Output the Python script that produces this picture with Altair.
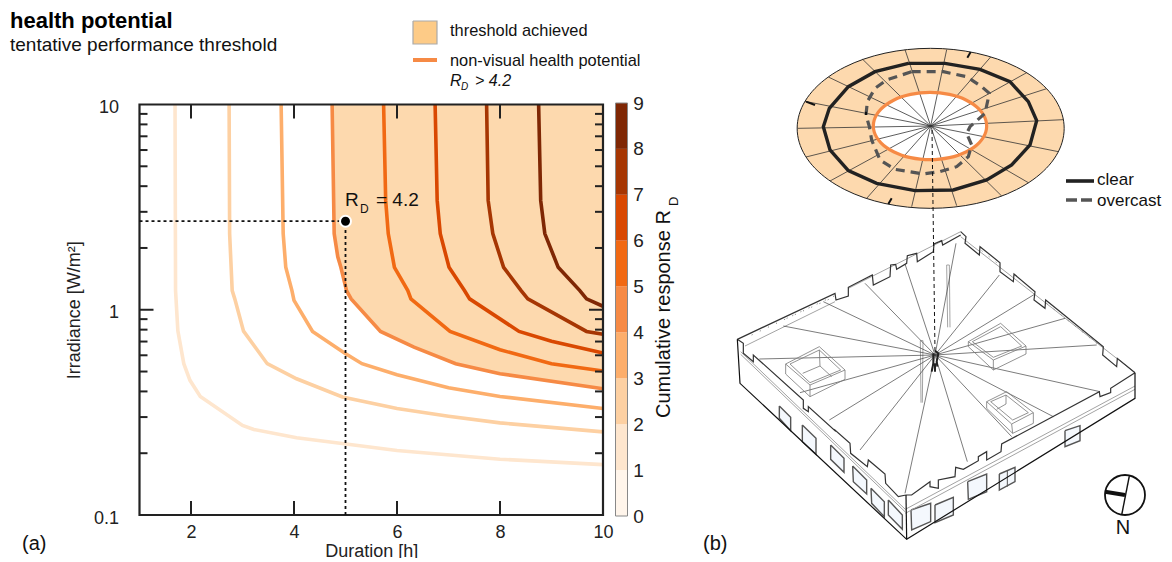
import altair as alt
import pandas as pd
import math

W, H = 1156, 550
FONT = "Liberation Sans"

# ---- response curves: duration [h] / irradiance [W/m2]
curve_labels = [1, 2, 3, 4, 5, 6, 7, 8]
curve_colors = ["#fee6ce", "#fdd0a2", "#fdae6b", "#f68a45", "#f16913", "#d94801", "#a63603", "#7f2704"]
c1_d = [1.69, 1.70, 1.745, 1.86, 1.98, 2.18, 3.0, 3.22, 4.05, 5.01, 6.0, 8.0, 10.0]
c1_i = [10, 1.24, 0.79, 0.546, 0.453, 0.378, 0.273, 0.261, 0.238, 0.222, 0.206, 0.187, 0.176]
c2_d = [2.74, 2.75, 2.80, 2.85, 3.02, 3.48, 4.05, 4.94, 6.0, 7.0, 8.0, 10.0]
c2_i = [10, 2.35, 1.24, 1.13, 0.787, 0.546, 0.461, 0.376, 0.33, 0.303, 0.281, 0.254]
c3_d = [3.75, 3.79, 3.84, 3.96, 4.0, 4.36, 4.98, 5.32, 6.0, 7.0, 8.0, 10.0]
c3_i = [10, 2.35, 1.61, 1.24, 1.11, 0.784, 0.615, 0.546, 0.482, 0.417, 0.378, 0.33]
c4_d = [4.74, 4.78, 4.85, 4.91, 5.02, 5.11, 5.68, 6.33, 7.14, 8.0, 10.0]
c4_i = [10, 2.35, 1.81, 1.61, 1.24, 1.13, 0.784, 0.658, 0.546, 0.488, 0.412]
c5_d = [5.74, 5.78, 5.83, 5.95, 6.21, 6.27, 7.03, 8.0, 9.0, 10.0]
c5_i = [10, 3.41, 2.35, 1.61, 1.24, 1.13, 0.784, 0.638, 0.546, 0.503]
c6_d = [6.74, 6.78, 6.84, 7.01, 7.31, 7.41, 8.37, 9.0, 10.0]
c6_i = [10, 3.41, 2.35, 1.61, 1.24, 1.13, 0.784, 0.703, 0.615]
c7_d = [7.74, 7.77, 7.86, 8.07, 8.41, 8.54, 9.68, 10.0]
c7_i = [10, 3.41, 2.35, 1.61, 1.24, 1.13, 0.784, 0.759]
c8_d = [8.75, 8.79, 8.87, 9.13, 9.55, 9.68, 10.0]
c8_i = [10, 3.41, 2.35, 1.61, 1.24, 1.13, 1.04]
curves = [(c1_d, c1_i), (c2_d, c2_i), (c3_d, c3_i), (c4_d, c4_i),
          (c5_d, c5_i), (c6_d, c6_i), (c7_d, c7_i), (c8_d, c8_i)]

# colour bar
bar_levels = [0, 1, 2, 3, 4, 5, 6, 7, 8]
bar_colors = ["#fff5eb", "#fee6ce", "#fdd0a2", "#fdae6b", "#f68a45", "#f16913", "#d94801", "#a63603", "#7f2704"]

minor_irr = [0.2, 0.3, 0.4, 0.5, 0.6, 0.7, 0.8, 0.9, 2, 3, 4, 5, 6, 7, 8, 9]
major_dur = [2, 4, 6, 8]
point_d, point_i = 5, 2.7

# ---- sky diagram, read in crop coordinates (3x, origin 780,30)
ring_az = list(range(0, 360, 10))
disk_spokes = [(375, 59), (500, 59), (632, 81), (740, 128), (800, 176), (850, 269), (835, 365), (745, 458),
               (665, 498), (530, 527), (395, 530), (260, 505), (150, 453), (78, 381), (52, 295), (75, 214),
               (145, 141), (248, 88)]
ring_clear = [(385, 100), (495, 100), (600, 118), (690, 155), (745, 215), (770, 272), (750, 345), (695, 405),
              (620, 450), (520, 480), (405, 482), (290, 460), (205, 422), (150, 360), (130, 290), (148, 235),
              (205, 170), (285, 125), (385, 100)]
ring_over = [(395, 125), (490, 125), (560, 140), (605, 170), (628, 190), (615, 250), (570, 290), (560, 310),
             (575, 345), (565, 380), (530, 410), (480, 425), (430, 432), (345, 418), (300, 390), (275, 330),
             (268, 290), (258, 255), (262, 215), (285, 175), (320, 150), (395, 125)]
disk_marks = [[(562, 83), (572, 66)], [(78, 215), (105, 225)], [(325, 522), (335, 505)], [(258, 245), (258, 255)]]

# ---- building, read in crop coordinates (3x, origin 720,220)
b_frame = [[(52, 358), (60, 490), (560, 958), (1245, 535), (1245, 458)], [(558, 825), (560, 958)]]
b_dark = [[(52, 358), (345, 220), (348, 240), (385, 228), (385, 202), (457, 165), (460, 195), (510, 170), (512, 135),
           (527, 133), (530, 148), (560, 130), (562, 107), (590, 100), (592, 125), (640, 95), (642, 72), (665, 62),
           (668, 75), (722, 45)],
          [(1245, 458), (1172, 505), (1172, 518), (1140, 530), (1138, 515), (845, 672), (843, 695), (800, 720),
           (800, 695), (775, 710), (775, 722), (730, 748), (707, 742), (705, 770), (655, 780), (655, 805), (630, 800),
           (630, 785), (575, 825), (558, 825)],
          [(558, 825), (535, 830), (497, 790), (495, 762), (445, 720), (442, 740), (392, 700), (390, 670), (345, 630),
           (345, 632), (265, 560), (265, 575), (250, 565), (250, 540), (100, 405), (100, 425), (70, 400), (70, 370),
           (52, 358)],
          [(722, 35), (738, 50), (735, 70), (778, 105), (780, 80), (840, 128), (840, 155), (880, 185), (882, 162),
           (945, 215), (942, 240), (975, 265), (977, 240), (1150, 380), (1148, 405), (1190, 440), (1192, 415),
           (1245, 458)]]
b_light = [[(75, 378), (345, 245)], [(385, 205), (722, 35)], [(722, 50), (1245, 458)],
           [(62, 395), (556, 868)], [(62, 403), (556, 876)],
           [(556, 868), (1245, 498)], [(556, 880), (1245, 508)],
           [(680, 135), (683, 322)], [(688, 135), (690, 322)], [(680, 135), (688, 135)],
           [(601, 362), (603, 548)], [(609, 362), (607, 548)], [(601, 362), (609, 362)]]
b_dots = [[(95, 345), (342, 228)], [(785, 92), (835, 132)], [(980, 250), (1140, 378)], [(200, 295), (340, 232)]]
roof_center = (645, 405)
roof_spokes = [(555, 132), (435, 190), (310, 245), (190, 318), (118, 417), (240, 518), (328, 600), (420, 690),
               (555, 820), (742, 725), (1000, 590), (1140, 515), (1130, 375), (1035, 295), (945, 222), (838, 165),
               (708, 70), (875, 650)]
skylights = [
    [(197, 432), (298, 380), (375, 450), (270, 495), (197, 432)],
    [(197, 432), (197, 462), (270, 530), (375, 478), (375, 450)], [(270, 495), (270, 530)],
    [(210, 432), (298, 390), (362, 450), (270, 488), (210, 432)],
    [(248, 460), (300, 438), (335, 470)], [(298, 390), (300, 438)],
    [(745, 365), (842, 310), (918, 378), (820, 420), (745, 365)],
    [(745, 365), (745, 380), (820, 450), (918, 402), (918, 378)], [(820, 420), (820, 450)],
    [(757, 365), (842, 320), (905, 378), (820, 412), (757, 365)],
    [(800, 545), (860, 515), (940, 578), (875, 612), (800, 545)],
    [(800, 545), (800, 565), (878, 640), (940, 610), (940, 578)], [(875, 612), (878, 640)],
    [(812, 545), (858, 525), (925, 578), (878, 600), (812, 545)], [(830, 568), (858, 552), (858, 525)],
]
windows = [
    [(178, 558), (212, 592), (212, 632), (178, 595), (178, 558)],
    [(247, 615), (288, 655), (288, 703), (247, 665), (247, 615)],
    [(332, 675), (372, 715), (372, 757), (332, 718), (332, 675)],
    [(398, 738), (440, 780), (440, 822), (400, 785), (398, 738)],
    [(453, 805), (493, 845), (493, 890), (455, 850), (453, 805)],
    [(505, 840), (547, 885), (547, 928), (505, 885), (505, 840)],
    [(573, 870), (632, 850), (632, 905), (575, 930), (573, 870)],
    [(645, 855), (700, 832), (700, 885), (645, 908), (645, 855)],
    [(743, 785), (800, 762), (800, 815), (745, 838), (743, 785)],
    [(838, 762), (885, 742), (885, 785), (838, 810), (838, 762)],
    [(1035, 632), (1080, 617), (1080, 662), (1035, 680), (1035, 632)],
]
window_bars = [[(862, 752), (862, 800)]]
person = [[(645, 392), (655, 400), (650, 425), (652, 440)], [(640, 400), (640, 430), (635, 455)], [(645, 430), (645, 455)]]
compass_lines = [[(1228, 768), (1205, 885)]]
compass_bar = [[(1155, 815), (1215, 825)]]

# ---- scales
xs = alt.Scale(type="linear", domain=[1, 10], range=[131.5, 595], nice=False, zero=False)
ys = alt.Scale(type="log", domain=[0.1, 10], range=[507, 96.5], nice=False)
px = alt.Scale(domain=[8, 8 + W], range=[0, W], nice=False, zero=False)
py = alt.Scale(domain=[8, 8 + H], range=[0, H], nice=False, zero=False)


def X(f="dur"):
    return alt.X(f"{f}:Q", scale=xs, axis=None)


def Y(f="irr"):
    return alt.Y(f"{f}:Q", scale=ys, axis=None)


def crop_a(p):
    return (780 + p[0] / 3, 30 + p[1] / 3)


def crop_b(p):
    return (720 + p[0] / 3, 220 + p[1] / 3)


def ring(cx, cy, a, b):
    return [(cx + a * math.cos(math.radians(t)), cy + b * math.sin(math.radians(t))) for t in ring_az]


disk_outer = ring(452, 295, 400.5, 240)
ring_health = ring(450, 288, 170, 101)


def lines(polys, conv, **style):
    rows = []
    for g, poly in enumerate(polys):
        for i, p in enumerate(poly):
            a, b = conv(p)
            rows.append({"g": g, "i": i, "a": a, "b": b})
    return alt.Chart(pd.DataFrame(rows)).mark_line(**style).encode(
        x=alt.X("a:Q", scale=px, axis=None), y=alt.Y("b:Q", scale=py, axis=None),
        detail="g:N", order="i:Q")


def txt(s, x, y, size=18, **kw):
    style = dict(font=FONT, fontSize=size, align="left", baseline="middle", color="#111")
    style.update(kw)
    return alt.Chart(pd.DataFrame({"a": [x], "b": [y], "t": [s]})).mark_text(**style).encode(
        x=alt.X("a:Q", scale=px, axis=None), y=alt.Y("b:Q", scale=py, axis=None), text="t:N")


# ---- panel (a)
area_df = pd.DataFrame({"dur": c4_d, "irr": c4_i, "top": [10] * len(c4_d)})
axes_a = alt.Chart(area_df).mark_point(opacity=0).encode(
    x=alt.X("dur:Q", scale=xs, axis=alt.Axis(
        values=[2, 4, 6, 8, 10], title="Duration [h]", orient="bottom", offset=507 - H, domain=False, ticks=False,
        grid=False, labelFont=FONT, titleFont=FONT, labelFontSize=18, titleFontSize=18, titleFontWeight="normal",
        labelColor="#222", titleColor="#222", labelPadding=8, titlePadding=1, labelFlush=False)),
    y=alt.Y("irr:Q", scale=ys, axis=alt.Axis(
        values=[0.1, 1, 10], format="~g", title="Irradiance [W/m²]", orient="left", offset=-131.5, domain=False,
        ticks=False, grid=False, labelFont=FONT, titleFont=FONT, labelFontSize=18, titleFontSize=18,
        titleFontWeight="normal", labelColor="#222", titleColor="#222", labelPadding=21, titlePadding=10,
        labelOffset=3, labelFlush=False)))
base = alt.Chart(area_df).mark_area(color="#fdd9ae").encode(x=X(), y=Y(), y2="top:Q")

curve_rows = []
for lab, col, (ds, irs) in zip(curve_labels, curve_colors, curves):
    for j, (d, v) in enumerate(zip(ds, irs)):
        curve_rows.append({"rd": lab, "col": col, "j": j, "dur": d, "irr": v})
curve_chart = alt.Chart(pd.DataFrame(curve_rows)).mark_line(strokeWidth=3.6, clip=True).encode(
    x=X(), y=Y(), detail="rd:N", color=alt.Color("col:N", scale=None), order="j:Q")

tick = dict(color="#222", strokeWidth=2)
minor_df = pd.DataFrame({"irr": minor_irr})
major_df = pd.DataFrame({"irr": [1]})
dur_df = pd.DataFrame({"dur": major_dur})
ticks = [
    alt.Chart(minor_df).mark_rule(**tick).encode(y=Y(), x=alt.value(131.5), x2=alt.value(139.5)),
    alt.Chart(minor_df).mark_rule(**tick).encode(y=Y(), x=alt.value(587), x2=alt.value(595)),
    alt.Chart(major_df).mark_rule(**tick).encode(y=Y(), x=alt.value(131.5), x2=alt.value(145.5)),
    alt.Chart(major_df).mark_rule(**tick).encode(y=Y(), x=alt.value(581), x2=alt.value(595)),
    alt.Chart(dur_df).mark_rule(**tick).encode(x=X(), y=alt.value(96.5), y2=alt.value(110.5)),
    alt.Chart(dur_df).mark_rule(**tick).encode(x=X(), y=alt.value(493), y2=alt.value(507)),
]
frame = alt.Chart(pd.DataFrame({"d0": [1], "d1": [10], "i0": [0.1], "i1": [10]})).mark_rect(
    fillOpacity=0, stroke="#222", strokeWidth=2.2).encode(x=X("d0"), x2="d1:Q", y=Y("i0"), y2="i1:Q")
dash = dict(color="#111", strokeWidth=1.8, strokeDash=[3, 3])
h_guide = alt.Chart(pd.DataFrame({"d0": [1], "d1": [point_d], "irr": [point_i]})).mark_rule(**dash).encode(
    x=X("d0"), x2="d1:Q", y=Y())
v_guide = alt.Chart(pd.DataFrame({"dur": [point_d], "i0": [0.1], "i1": [point_i]})).mark_rule(**dash).encode(
    x=X(), y=Y("i0"), y2="i1:Q")
marker = alt.Chart(pd.DataFrame({"dur": [point_d], "irr": [point_i]})).mark_point(
    filled=True, fill="#000", stroke="#fff", strokeWidth=2, opacity=1, size=120).encode(x=X(), y=Y())

panel_a = alt.layer(base, curve_chart, *ticks, frame, h_guide, v_guide, marker)

# ---- colour bar
bar_df = pd.DataFrame({"lo": bar_levels, "hi": [v + 1 for v in bar_levels], "col": bar_colors})
cs = alt.Scale(domain=[0, 9], range=[508, 95], nice=False, zero=False)
bar_axis = alt.Chart(bar_df).mark_point(opacity=0).encode(
    x=alt.value(612),
    y=alt.Y("lo:Q", scale=cs, axis=alt.Axis(
        values=list(range(10)), orient="right", offset=619.7 - W, title=None, domain=False, ticks=False, grid=False,
        labelFont=FONT, labelFontSize=19, labelColor="#222", labelPadding=5, labelFlush=False, format="d")))
colorbar = alt.Chart(bar_df).mark_rect().encode(
    y=alt.Y("lo:Q", scale=cs, axis=None),
    y2="hi:Q", x=alt.value(607.5), x2=alt.value(619.5), color=alt.Color("col:N", scale=None))
bar_frame = alt.Chart(pd.DataFrame({"lo": [0], "hi": [9]})).mark_rect(
    fillOpacity=0, stroke="#888", strokeWidth=1).encode(
    y=alt.Y("lo:Q", scale=cs, axis=None), y2="hi:Q", x=alt.value(607.5), x2=alt.value(619.5))
bar_group = alt.layer(colorbar, bar_frame)

# ---- drawing and free text (image coordinates)
swatch = lines([[(413, 21), (437, 21), (437, 44), (413, 44), (413, 21)]], lambda p: p, color="#aaa", strokeWidth=1.2,
               fill="#fdcb87")
legend_line = lines([[(413, 60), (437, 60)]], lambda p: p, color="#f68a45", strokeWidth=4)
overlay = [
    txt("health potential", 10, 21, 22, fontWeight="bold", color="#000"),
    txt("tentative performance threshold", 10, 45, 19),
    swatch, legend_line,
    txt("threshold achieved", 450, 31, 16.4),
    txt("non-visual health potential", 450, 61, 16.4),
    txt("R", 450, 81, 16, fontStyle="italic"),
    txt("D", 461, 87, 10, fontStyle="italic"),
    txt("> 4.2", 475, 81, 16, fontStyle="italic"),
    txt("R", 345, 200, 19), txt("D", 360, 209, 12), txt("= 4.2", 376, 200, 19),
    txt("Cumulative response R", 664, 418, 20, angle=270, baseline="middle"),
    txt("D", 674, 206, 13, angle=270, baseline="middle"),
    txt("(a)", 22, 544, 20), txt("(b)", 703, 544, 20),
    # sky diagram
    lines([disk_outer], crop_a, color="#222", strokeWidth=1, fill="#fdd9ae", interpolate="cardinal-closed"),
    lines([ring_health], crop_a, strokeWidth=0, fill="#fff", interpolate="cardinal-closed"),
    lines([[(452, 288), p] for p in disk_spokes], crop_a, color="#333", strokeWidth=0.8),
    lines([ring_health], crop_a, color="#f68a45", strokeWidth=3.2, interpolate="cardinal-closed"),
    lines([ring_clear], crop_a, color="#222", strokeWidth=3.4),
    lines([ring_over], crop_a, color="#555", strokeWidth=3.2, strokeDash=[9, 6]),
    lines(disk_marks, crop_a, color="#111", strokeWidth=2),
    lines([[(1066, 181), (1094, 181)]], lambda p: p, color="#222", strokeWidth=3.6),
    lines([[(1066, 200), (1094, 200)]], lambda p: p, color="#555", strokeWidth=3.6, strokeDash=[11, 4]),
    txt("clear", 1097, 180, 17), txt("overcast", 1097, 201, 17),
    # building
    lines(windows, crop_b, color="#555", strokeWidth=1.4, fill="#f4f8fd"),
    lines(window_bars, crop_b, color="#555", strokeWidth=1),
    lines(b_light, crop_b, color="#999", strokeWidth=0.9),
    lines(b_dots, crop_b, color="#777", strokeWidth=1, strokeDash=[1, 8]),
    lines([[roof_center, p] for p in roof_spokes], crop_b, color="#444", strokeWidth=0.7),
    lines(skylights, crop_b, color="#777", strokeWidth=0.8),
    lines(b_dark, crop_b, color="#333", strokeWidth=1.2),
    lines(b_frame, crop_b, color="#111", strokeWidth=1.2),
    lines(person, crop_b, color="#222", strokeWidth=2),
    lines([[(932, 130), (935, 352)]], lambda p: p, color="#111", strokeWidth=1, strokeDash=[4, 3]),
    # north arrow
    alt.Chart(pd.DataFrame({"a": [1125], "b": [495]})).mark_point(
        size=1600, color="#111", strokeWidth=1.8, opacity=1).encode(
        x=alt.X("a:Q", scale=px, axis=None), y=alt.Y("b:Q", scale=py, axis=None)),
    lines(compass_lines, crop_b, color="#111", strokeWidth=1.4),
    lines(compass_bar, crop_b, color="#111", strokeWidth=4),
    txt("N", 1123, 528, 20, align="center", color="#111"),
]
overlay_group = alt.layer(*overlay)

chart = alt.layer(axes_a, panel_a, bar_axis, bar_group, overlay_group).resolve_scale(
    x="independent", y="independent"
).properties(width=W, height=H, padding=0, autosize="none", background="#ffffff").configure_view(stroke=None)

chart.save("out.html", embed_options={"renderer": "svg", "actions": False})
